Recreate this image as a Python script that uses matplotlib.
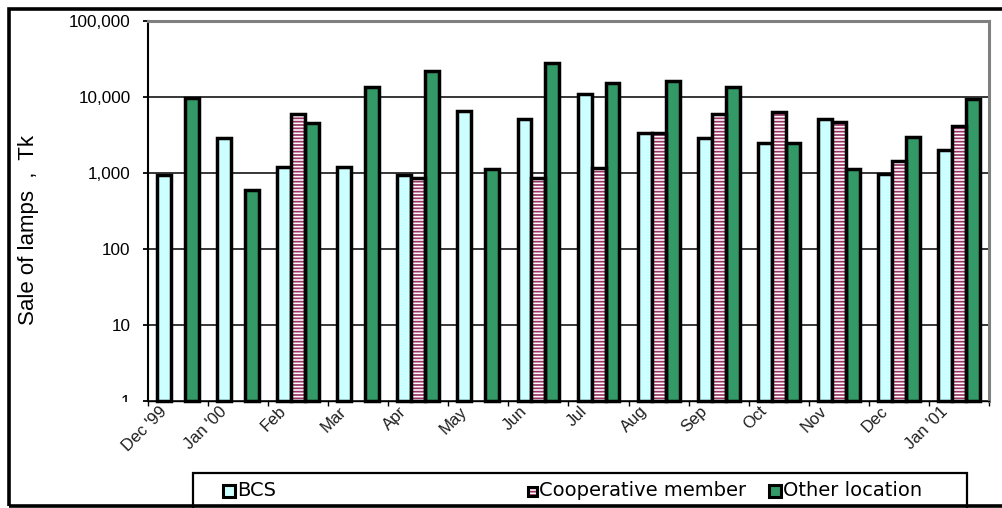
import numpy as np
import matplotlib
matplotlib.use("Agg")
import matplotlib.pyplot as plt
from matplotlib.patches import Rectangle
from matplotlib.ticker import FixedLocator, NullLocator, FuncFormatter
from matplotlib.transforms import Bbox, TransformedBbox, ScaledTranslation

# Monthly lamp sales (Tk) by sales channel
months = ["Dec '99", "Jan '00", "Feb", "Mar", "Apr", "May", "Jun",
          "Jul", "Aug", "Sep", "Oct", "Nov", "Dec", "Jan '01"]
bcs = [950, 2850, 1200, 1200, 930, 6500, 5200,
       10800, 3400, 2850, 2500, 5200, 960, 2000]
coop = [None, None, 5900, None, 850, None, 850,
        1150, 3400, 5900, 6300, 4700, 1430, 4100]
other = [9600, 590, 4600, 13700, 22000, 1130, 28000,
         15500, 16300, 13700, 2500, 1130, 2950, 9300]
series_names = ["BCS", "Cooperative member", "Other location"]

W, H = 1003, 508
CYAN = "#CCFFFF"
MAROON = "#993366"
GREEN = "#339966"
GRAY = "#808080"

plt.rcParams["font.family"] = ["Liberation Sans", "DejaVu Sans"]
plt.rcParams["hatch.linewidth"] = 1.25

fig = plt.figure(figsize=(W / 100, H / 100), dpi=100)
fig.patch.set_facecolor("white")


def fx(px):
    return px / W


def fy(py):
    return 1 - py / H


ax = fig.add_axes([fx(148), fy(401), fx(989) - fx(148), fy(21) - fy(401)])
ax.set_yscale("log")
ax.set_ylim(1, 100000)
ax.set_xlim(0, len(months))

x = np.arange(len(months)) + 0.5
bw = 0.232
edge_lw = 2.5

# light cyan bars
ax.bar(x - bw, np.array(bcs) - 1, bottom=1, width=bw, color=CYAN,
       edgecolor="black", linewidth=edge_lw, zorder=3, clip_on=False)

# striped bars: hatch layer, then outline layer
cx = np.array([xi for xi, v in zip(x, coop) if v is not None])
cv = np.array([v for v in coop if v is not None], dtype=float)
ax.bar(cx, cv - 1, bottom=1, width=bw, facecolor="white", edgecolor=MAROON,
       hatch="-----", linewidth=0, zorder=3)
ax.bar(cx, cv - 1, bottom=1, width=bw, facecolor="none",
       edgecolor="black", linewidth=edge_lw, zorder=4, clip_on=False)

# green bars
ax.bar(x + bw, np.array(other) - 1, bottom=1, width=bw, color=GREEN,
       edgecolor="black", linewidth=edge_lw, zorder=3, clip_on=False)

# gridlines and axes
ax.yaxis.set_major_locator(FixedLocator([1, 10, 100, 1000, 10000, 100000]))
ax.yaxis.set_minor_locator(NullLocator())
ax.yaxis.set_major_formatter(FuncFormatter(lambda v, p: f"{int(round(v)):,}"))
ax.grid(axis="y", which="major", color="black", linewidth=1.1, zorder=1)
ax.set_axisbelow(True)

ax.xaxis.set_major_locator(FixedLocator(np.arange(len(months) + 1)))
ax.xaxis.set_minor_locator(NullLocator())
ax.set_xticklabels([])
ax.tick_params(axis="x", direction="out", length=3.5, width=1.0, color="black")
ax.tick_params(axis="y", direction="out", length=3.5, width=1.3, color="black",
               pad=9, labelsize=12.3, labelcolor="black")

ax.spines["left"].set_color("black")
ax.spines["left"].set_linewidth(1.5)
ax.spines["bottom"].set_color("black")
ax.spines["bottom"].set_linewidth(1.0)
for s in ("top", "right"):
    ax.spines[s].set_color(GRAY)
    ax.spines[s].set_linewidth(2.2)

# bottom "1" label sits half below the plot floor
clip = TransformedBbox(Bbox.from_extents(0, fy(402), 1, 1), fig.transFigure)
for tick in ax.yaxis.get_major_ticks():
    tick.label1.set_clip_on(True)
    tick.label1.set_clip_box(clip)

# rotated month labels
lab_tr = ax.get_xaxis_transform() + ScaledTranslation(-14 / 100, -8 / 100,
                                                      fig.dpi_scale_trans)
for xi, m in zip(x, months):
    ax.text(xi, 0, m, transform=lab_tr, rotation=45, rotation_mode="anchor",
            ha="right", va="center", fontsize=12, color="#1e1e1e")

fig.text(fx(29), fy(230), "Sale of lamps  ,  Tk", rotation=90, ha="center",
         va="center", fontsize=16)

# outer frame
fig.patches.append(Rectangle((fx(9), fy(506)), 1.2, fy(9) - fy(506),
                             transform=fig.transFigure, fill=False,
                             edgecolor="black", linewidth=2.6, clip_on=False))

# legend box
fig.patches.append(Rectangle((fx(193), fy(520)), fx(967) - fx(193),
                             fy(473) - fy(520), transform=fig.transFigure,
                             fill=False, edgecolor="black", linewidth=1.6,
                             clip_on=False, zorder=2))

leg_y = 491
leg_items = [(229, 12, CYAN, None), (533, 9, "white", "-----"),
             (775, 12, GREEN, None)]
for (mx, ms, col, hatch), name in zip(leg_items, series_names):
    if hatch:
        fig.patches.append(Rectangle((fx(mx - ms / 2), fy(leg_y + ms / 2)),
                                     ms / W, ms / H, transform=fig.transFigure,
                                     facecolor="white", edgecolor=MAROON,
                                     hatch=hatch, linewidth=0, zorder=3))
        fig.patches.append(Rectangle((fx(mx - ms / 2), fy(leg_y + ms / 2)),
                                     ms / W, ms / H, transform=fig.transFigure,
                                     facecolor="none", edgecolor="black",
                                     linewidth=2.2, zorder=4))
    else:
        fig.patches.append(Rectangle((fx(mx - ms / 2), fy(leg_y + ms / 2)),
                                     ms / W, ms / H, transform=fig.transFigure,
                                     facecolor=col, edgecolor="black",
                                     linewidth=2.2, zorder=4))
    fig.text(fx(mx + ms / 2 + 2), fy(leg_y), name, ha="left", va="center",
             fontsize=14, family=["DejaVu Sans"])

fig.savefig("out.png", dpi=100, facecolor="white")
